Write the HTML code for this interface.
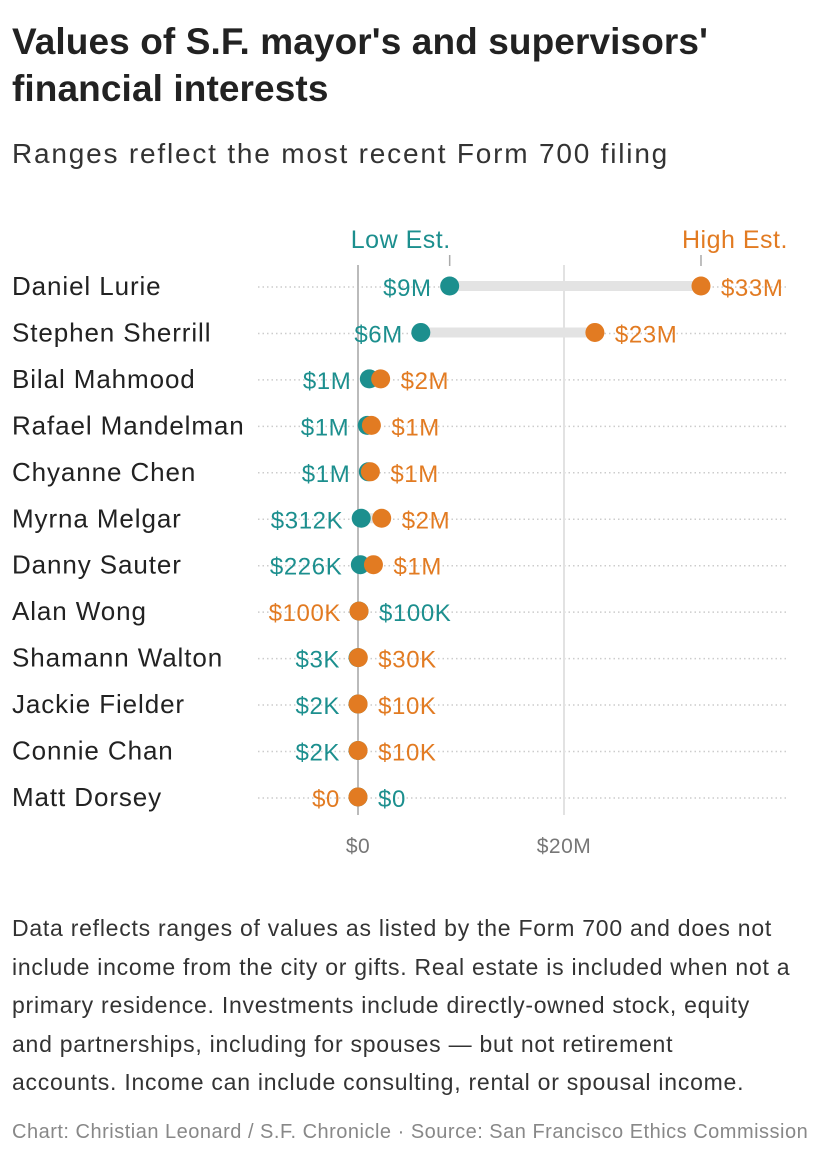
<!DOCTYPE html>
<html><head><meta charset="utf-8">
<style>
body{margin:0;background:#fff;font-family:"Liberation Sans",sans-serif;color:#222;}
#wrap{position:relative;width:820px;height:1160px;overflow:hidden}
h1{position:absolute;left:12px;top:18px;margin:0;font-size:37px;line-height:47px;font-weight:bold;color:#222;letter-spacing:0.1px}
.sub{position:absolute;left:12px;top:138px;font-size:28px;color:#333;letter-spacing:1.8px}
.note{position:absolute;left:12px;top:909px;width:810px;font-size:23px;line-height:38.5px;color:#333;letter-spacing:0.75px;white-space:nowrap}
.credit{position:absolute;left:12px;top:1121px;font-size:20px;color:#888;letter-spacing:0.5px;white-space:nowrap}
svg{position:absolute;left:0;top:0}
</style></head><body>
<div id="wrap">
<h1>Values of S.F. mayor's and supervisors'<br>financial interests</h1>
<div class="sub">Ranges reflect the most recent Form 700 filing</div>
<svg id="chart" width="820" height="900"></svg>
<div class="note">Data reflects ranges of values as listed by the Form 700 and does not<br>include income from the city or gifts. Real estate is included when not a<br>primary residence. Investments include directly-owned stock, equity<br>and partnerships, including for spouses — but not retirement<br>accounts. Income can include consulting, rental or spousal income.</div>
<div class="credit">Chart: Christian Leonard / S.F. Chronicle · Source: San Francisco Ethics Commission</div>
</div>
<script>
const names=["Daniel Lurie","Stephen Sherrill","Bilal Mahmood","Rafael Mandelman","Chyanne Chen","Myrna Melgar","Danny Sauter","Alan Wong","Shamann Walton","Jackie Fielder","Connie Chan","Matt Dorsey"];
const lowVals=[8.9,6.1,1.1,0.9,1.0,0.312,0.226,0.1,0.003,0.002,0.002,0];
const highVals=[33.3,23.0,2.2,1.3,1.2,2.3,1.5,0.1,0.03,0.01,0.01,0];
const lowLabels=["$9M","$6M","$1M","$1M","$1M","$312K","$226K","$100K","$3K","$2K","$2K","$0"];
const highLabels=["$33M","$23M","$2M","$1M","$1M","$2M","$1M","$100K","$30K","$10K","$10K","$0"];
const ticks=[0,20];
const tickLabels=["$0","$20M"];
const TEAL="#1c8f8e",ORANGE="#e27b22";
const x=v=>358+v*10.3;
const y=i=>286+i*46.45;
const svg=document.getElementById('chart');
const NS="http://www.w3.org/2000/svg";
function mk(t,a,txt){const e=document.createElementNS(NS,t);for(const k in a)e.setAttribute(k,a[k]);if(txt!=null)e.textContent=txt;svg.appendChild(e);return e;}
names.forEach((n,i)=>{
  const g=mk('line',{x1:258,x2:786,y1:y(i)+1,y2:y(i)+1,stroke:'#ccc','stroke-width':1.5,'stroke-dasharray':'1.5 3'});
  
  
});
ticks.forEach((t,k)=>{
  const l=mk('line',{x1:x(t),x2:x(t),y1:265,y2:815,stroke:k==0?'#bbb':'#e2e2e2','stroke-width':2});
  
  
  const tl=mk('text',{x:x(t),y:853,'text-anchor':'middle','font-size':21,fill:'#777','letter-spacing':0.5},tickLabels[k]);
  
  
});
let h=mk('text',{x:x(lowVals[0])+1,y:248,'text-anchor':'end','font-size':25,fill:TEAL,'letter-spacing':0.5},"Low Est.");


h=mk('text',{x:x(highVals[0])-19,y:248,'text-anchor':'start','font-size':25,fill:ORANGE,'letter-spacing':0.5},"High Est.");


[lowVals[0],highVals[0]].forEach(v=>{const t=mk('line',{x1:x(v),x2:x(v),y1:255,y2:266,stroke:'#aaa','stroke-width':1.5});});
names.forEach((n,i)=>{
  const yy=y(i);
  const nm=mk('text',{x:12,y:yy+9,'font-size':26,fill:'#222','letter-spacing':0.9},n);
  
  
  const b=mk('line',{x1:x(lowVals[i]),x2:x(highVals[i]),y1:yy,y2:yy,stroke:'#e3e3e3','stroke-width':10});
  
  
  const c1=mk('circle',{cx:x(lowVals[i]),cy:yy,r:9.5,fill:TEAL});
  
  
  const c2=mk('circle',{cx:x(highVals[i]),cy:yy,r:9.5,fill:ORANGE});
  
  
  const swap=lowVals[i]===highVals[i];
  const L=Math.min(x(lowVals[i]),x(highVals[i]))-18, R=Math.max(x(lowVals[i]),x(highVals[i]))+20;
  const lt=mk('text',{x:swap?R:L,y:yy+10,'text-anchor':swap?'start':'end','font-size':24,fill:TEAL,'letter-spacing':0.6},lowLabels[i]);
  
  
  const ht=mk('text',{x:swap?L:R,y:yy+10,'text-anchor':swap?'end':'start','font-size':24,fill:ORANGE,'letter-spacing':0.6},highLabels[i]);
  
  
});
</script>
</body></html>
